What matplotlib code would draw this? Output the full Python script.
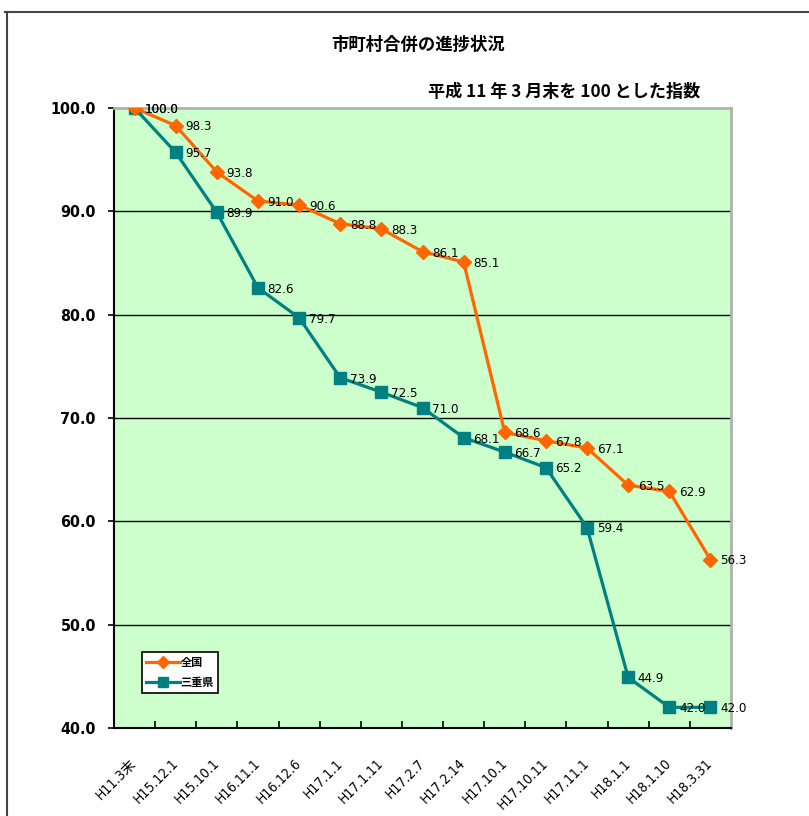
import matplotlib
matplotlib.use("Agg")
import matplotlib.pyplot as plt
from matplotlib.lines import Line2D
from matplotlib.ticker import FixedLocator

plt.rcParams["font.family"] = ["DejaVu Sans", "Noto Sans CJK JP"]
plt.rcParams["font.stretch"] = "condensed"

dates = ["H11.3末", "H15.12.1", "H15.10.1", "H16.11.1", "H16.12.6", "H17.1.1", "H17.1.11",
         "H17.2.7", "H17.2.14", "H17.10.1", "H17.10.11", "H17.11.1", "H18.1.1", "H18.1.10", "H18.3.31"]
zenkoku = [100.0, 98.3, 93.8, 91.0, 90.6, 88.8, 88.3, 86.1, 85.1, 68.6, 67.8, 67.1, 63.5, 62.9, 56.3]
mie = [100.0, 95.7, 89.9, 82.6, 79.7, 73.9, 72.5, 71.0, 68.1, 66.7, 65.2, 59.4, 44.9, 42.0, 42.0]
yticks = [40, 50, 60, 70, 80, 90, 100]

ORANGE = "#FF6600"
TEAL = "#008080"

fig = plt.figure(figsize=(8.09, 8.16), dpi=100)
ax = fig.add_axes([114 / 809, 1 - 728 / 816, 617 / 809, 620 / 816])
ax.set_facecolor("#CCFFCC")

x = list(range(len(dates)))
ax.plot(x, zenkoku, color=ORANGE, lw=2.3, marker="D", ms=7, mfc=ORANGE, mec=ORANGE,
        label="全国", zorder=4)
ax.plot(x, mie, color=TEAL, lw=2.3, marker="s", ms=8.5, mfc=TEAL, mec=TEAL,
        label="三重県", zorder=3)

lab_font = dict(fontsize=9.5, color="black", va="center", ha="left")
for xi, v in zip(x, zenkoku):
    ax.annotate(f"{v:.1f}", (xi, v), xytext=(7, -1), textcoords="offset points", zorder=5, **lab_font)
for xi, v in zip(x, mie):
    ax.annotate(f"{v:.1f}", (xi, v), xytext=(7, -1), textcoords="offset points", zorder=5, **lab_font)

ax.set_xlim(-0.5, len(dates) - 0.5)
ax.set_ylim(40, 100)
ax.set_yticks(yticks)
ax.set_yticklabels([f"{t:.1f}" for t in yticks], fontsize=11.5, fontweight="bold")
for t in yticks[1:-1]:
    ax.axhline(t, color="black", lw=1.0, zorder=1)

ax.set_xticks(x)
ax.set_xticklabels(dates, rotation=45, ha="right", va="center", rotation_mode="anchor",
                   fontsize=10)
ax.tick_params(axis="x", which="major", length=0, pad=24)
ax.xaxis.set_minor_locator(FixedLocator([i + 0.5 for i in range(len(dates) - 1)]))
ax.tick_params(axis="x", which="minor", direction="in", length=5, width=1.2, color="black")
ax.tick_params(axis="y", direction="out", length=4, width=1.2, pad=9)

for s in ["left", "bottom"]:
    ax.spines[s].set_color("black")
    ax.spines[s].set_linewidth(1.5)
for s in ["top", "right"]:
    ax.spines[s].set_color("#B0B0B0")
    ax.spines[s].set_linewidth(2.0)

leg = ax.legend(loc="lower left", bbox_to_anchor=(0.045, 0.056), fancybox=False,
                edgecolor="black", framealpha=1,
                prop={"family": ["Noto Sans CJK JP"], "weight": "bold", "size": 8},
                handlelength=3.0, handletextpad=0.1, borderpad=0.4, labelspacing=0.6,
                markerscale=0.9, borderaxespad=0)
leg.get_frame().set_linewidth(1.2)

fig.text(418 / 809, 1 - 45 / 816, "市町村合併の進捗状況", ha="center", va="center",
         fontsize=12.5, fontweight="bold", family=["Noto Sans CJK JP"])
fig.text(700 / 809, 1 - 92 / 816, "平成 11 年 3 月末を 100 とした指数", ha="right", va="center",
         fontsize=12.3, fontweight="bold", family=["Noto Sans CJK JP"])

fig.add_artist(Line2D([5 / 809, 1], [1 - 12 / 816] * 2, color="#444444", lw=1.5))
fig.add_artist(Line2D([7 / 809] * 2, [0, 1 - 12 / 816], color="#444444", lw=1.5))

fig.savefig("out.png", dpi=100)
